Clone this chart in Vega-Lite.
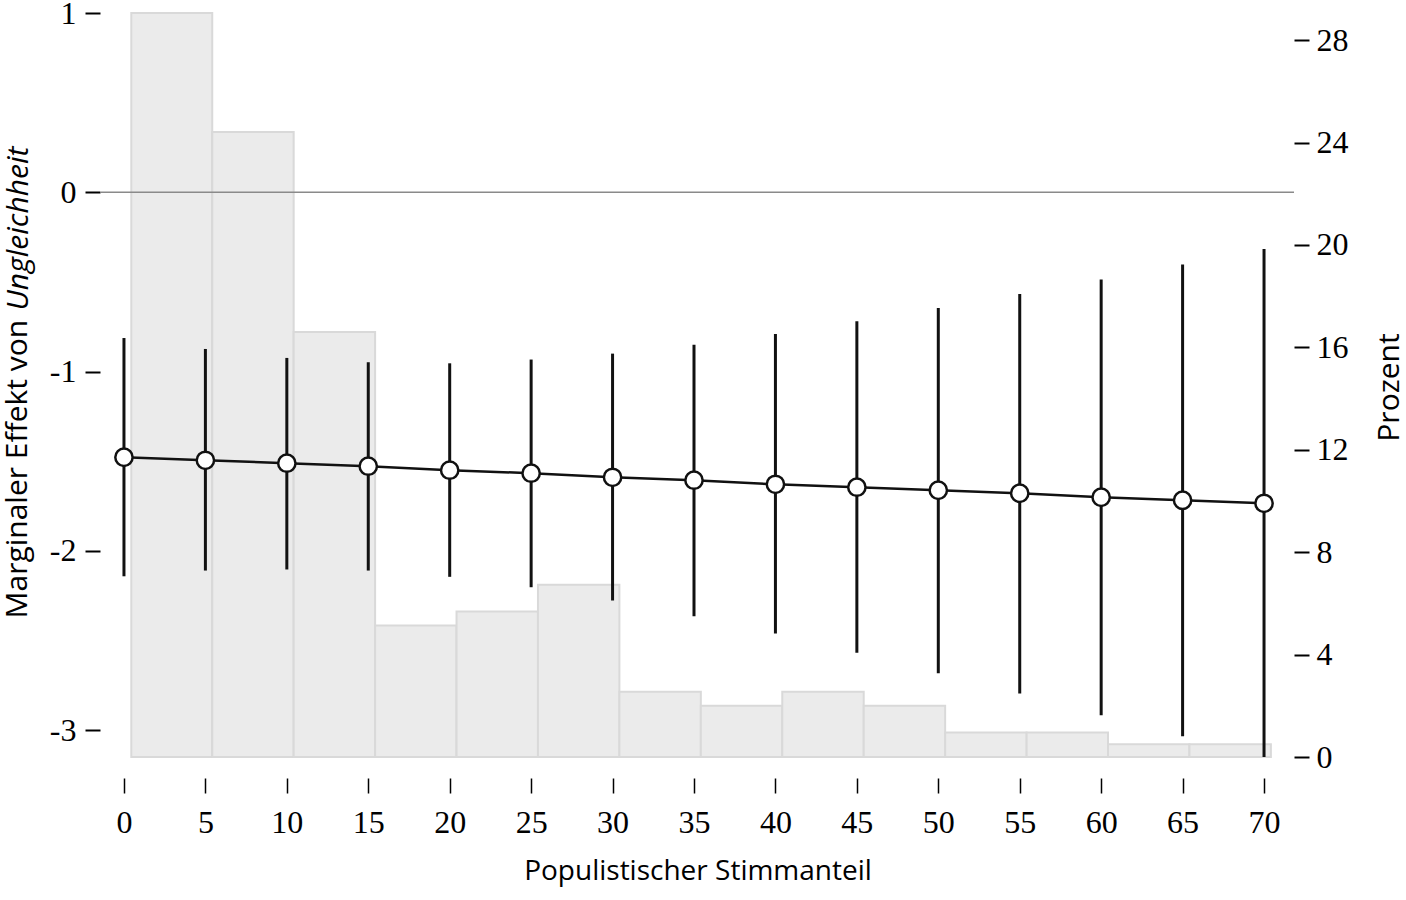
{
  "$schema": "https://vega.github.io/schema/vega-lite/v6.json",
  "width": 1193,
  "height": 744,
  "autosize": "none",
  "padding": {"left": 101, "top": 13, "right": 112, "bottom": 143},
  "background": "white",
  "datasets": {
    "hist": [
      {"lo": 0.45, "hi": 5.42, "pct": 29.06},
      {"lo": 5.42, "hi": 10.42, "pct": 24.41},
      {"lo": 10.42, "hi": 15.42, "pct": 16.6},
      {"lo": 15.42, "hi": 20.42, "pct": 5.14},
      {"lo": 20.42, "hi": 25.42, "pct": 5.68},
      {"lo": 25.42, "hi": 30.42, "pct": 6.73},
      {"lo": 30.42, "hi": 35.42, "pct": 2.55},
      {"lo": 35.42, "hi": 40.42, "pct": 2.0},
      {"lo": 40.42, "hi": 45.42, "pct": 2.55},
      {"lo": 45.42, "hi": 50.42, "pct": 2.0},
      {"lo": 50.42, "hi": 55.42, "pct": 0.96},
      {"lo": 55.42, "hi": 60.42, "pct": 0.96},
      {"lo": 60.42, "hi": 65.42, "pct": 0.5},
      {"lo": 65.42, "hi": 70.42, "pct": 0.5}
    ],
    "me": [
      {"share": 0, "est": -1.478, "lo": -2.142, "hi": -0.813},
      {"share": 5, "est": -1.495, "lo": -2.110, "hi": -0.874},
      {"share": 10, "est": -1.511, "lo": -2.104, "hi": -0.924},
      {"share": 15, "est": -1.528, "lo": -2.110, "hi": -0.948},
      {"share": 20, "est": -1.550, "lo": -2.145, "hi": -0.954},
      {"share": 25, "est": -1.567, "lo": -2.203, "hi": -0.933},
      {"share": 30, "est": -1.590, "lo": -2.277, "hi": -0.900},
      {"share": 35, "est": -1.606, "lo": -2.365, "hi": -0.850},
      {"share": 40, "est": -1.629, "lo": -2.461, "hi": -0.790},
      {"share": 45, "est": -1.645, "lo": -2.569, "hi": -0.719},
      {"share": 50, "est": -1.662, "lo": -2.683, "hi": -0.645},
      {"share": 55, "est": -1.679, "lo": -2.796, "hi": -0.567},
      {"share": 60, "est": -1.701, "lo": -2.917, "hi": -0.487},
      {"share": 65, "est": -1.718, "lo": -3.034, "hi": -0.403},
      {"share": 70, "est": -1.735, "lo": -3.150, "hi": -0.316}
    ]
  },
  "layer": [
    {
      "data": {"name": "hist"},
      "mark": {"type": "rect", "fill": "#ebebeb", "stroke": "#d9d9d9", "strokeWidth": 2},
      "encoding": {
        "x": {"field": "lo", "type": "quantitative",
          "scale": {"domain": [-1.41, 71.84], "nice": false, "zero": false},
          "axis": {"orient": "bottom", "values": [0, 5, 10, 15, 20, 25, 30, 35, 40, 45, 50, 55, 60, 65, 70],
            "domain": false, "grid": false, "tickColor": "black", "tickWidth": 1.5, "tickSize": 15, "offset": 21,
            "labelFont": "Liberation Serif", "labelFontSize": 32, "labelColor": "black", "labelPadding": 14,
            "title": "Populistischer Stimmanteil", "titleFont": "Open Sans", "titleFontSize": 28,
            "titleFontWeight": "normal", "titleColor": "black", "titleY": 101, "titleBaseline": "alphabetic"}},
        "x2": {"field": "hi"},
        "y": {"field": "pct", "type": "quantitative",
          "scale": {"domain": [0, 29.06], "nice": false, "zero": true},
          "axis": {"orient": "right", "values": [0, 4, 8, 12, 16, 20, 24, 28],
            "domain": false, "grid": false, "tickColor": "black", "tickWidth": 2, "tickSize": 15,
            "labelFont": "Liberation Serif", "labelFontSize": 32, "labelColor": "black", "labelPadding": 7,
            "title": "Prozent", "titleFont": "Open Sans", "titleFontSize": 30, "titleFontWeight": "normal",
            "titleColor": "black", "titleAngle": -90, "titleX": 104, "titleY": 374,
            "titleAlign": "center", "titleBaseline": "alphabetic"}},
        "y2": {"datum": 0}
      }
    },
    {
      "data": {"values": [{}]},
      "mark": {"type": "rule", "color": "#8a8a8a", "strokeWidth": 1.5},
      "encoding": {
        "y": {"datum": 0, "type": "quantitative",
          "scale": {"domain": [-3.15, 1], "nice": false, "zero": false},
          "axis": {"orient": "left", "labels": false, "ticks": false, "domain": false, "grid": false,
            "title": "Ungleichheit", "titleFont": "Open Sans", "titleFontSize": 30, "titleFontWeight": "normal",
            "titleFontStyle": "italic", "titleColor": "black", "titleAngle": -90, "titleX": -74, "titleY": 297,
            "titleAlign": "left", "titleBaseline": "alphabetic"}}
      }
    },
    {
      "data": {"name": "me"},
      "encoding": {
        "x": {"field": "share", "type": "quantitative"}
      },
      "layer": [
        {
          "mark": {"type": "rule", "color": "#111111", "strokeWidth": 3},
          "encoding": {
            "y": {"field": "lo", "type": "quantitative",
              "scale": {"domain": [-3.15, 1], "nice": false, "zero": false},
              "axis": {"orient": "left", "values": [-3, -2, -1, 0, 1], "labelExpr": "'' + datum.value",
                "domain": false, "grid": false, "tickColor": "black", "tickWidth": 2, "tickSize": 15, "offset": 1,
                "labelFont": "Liberation Serif", "labelFontSize": 32, "labelColor": "black", "labelPadding": 9,
                "title": "Marginaler Effekt von", "titleFont": "Open Sans", "titleFontSize": 30,
                "titleFontWeight": "normal", "titleColor": "black", "titleAngle": -90, "titleX": -74,
                "titleY": 605, "titleAlign": "left", "titleBaseline": "alphabetic"}},
            "y2": {"field": "hi"}
          }
        },
        {
          "mark": {"type": "line", "color": "#111111", "strokeWidth": 2.5},
          "encoding": {"y": {"field": "est", "type": "quantitative"}}
        },
        {
          "mark": {"type": "point", "shape": "circle", "filled": true, "fill": "white", "stroke": "#111111",
            "strokeWidth": 2.5, "size": 300, "opacity": 1},
          "encoding": {"y": {"field": "est", "type": "quantitative"}}
        }
      ]
    }
  ],
  "resolve": {"scale": {"y": "independent"}},
  "config": {"view": {"stroke": null}}
}
